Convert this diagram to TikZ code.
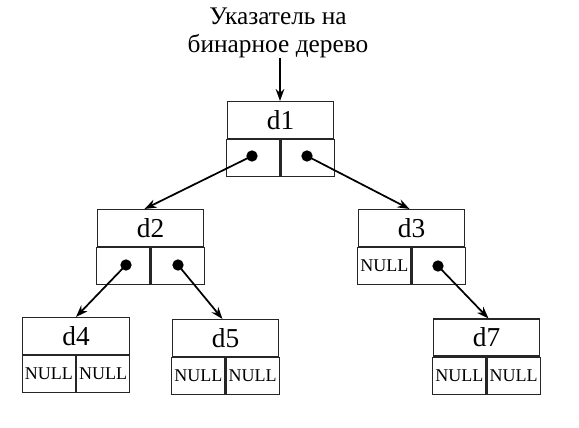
\documentclass[tikz,border=0pt]{standalone}
\usepackage{fontspec}
\setmainfont{Liberation Serif}
\usetikzlibrary{arrows.meta}
\begin{document}
\begin{tikzpicture}[x=0.75pt,y=-0.75pt,
  cell/.style={draw=black!85,line width=0.8pt,inner sep=0pt,minimum width=106.5*0.75pt,minimum height=37*0.75pt,font=\fontsize{20.5}{22}\selectfont},
  half/.style={draw=black!85,line width=0.8pt,inner sep=0pt,minimum width=53.25*0.75pt,minimum height=37*0.75pt,font=\fontsize{13.5}{14}\selectfont},
  dot/.style={circle,fill=black,inner sep=0pt,minimum size=8.5pt},
  link/.style={line width=1.3pt,-{Stealth[length=9pt,width=6.5pt]}},
  title/.style={align=center,font=\fontsize{19}{20.5}\selectfont,inner sep=0pt}]
\useasboundingbox (0,0) rectangle (579,428);
% d1
\node[cell] (d1) at (280.5,120) {d1};
\node[half,anchor=north east] (d1l) at (d1.south) {};
\node[half,anchor=north west] (d1r) at (d1.south) {};
% d2
\node[cell] (d2) at (150.5,228) {d2};
\node[half,anchor=north east] (d2l) at (d2.south) {};
\node[half,anchor=north west] (d2r) at (d2.south) {};
% d3
\node[cell] (d3) at (411.5,228) {d3};
\node[half,anchor=north east] (d3l) at (d3.south) {NULL};
\node[half,anchor=north west] (d3r) at (d3.south) {};
% d4
\node[cell] (d4) at (76,336) {d4};
\node[half,anchor=north east] (d4l) at (d4.south) {NULL};
\node[half,anchor=north west] (d4r) at (d4.south) {NULL};
% d5
\node[cell] (d5) at (225.5,338) {d5};
\node[half,anchor=north east] (d5l) at (d5.south) {NULL};
\node[half,anchor=north west] (d5r) at (d5.south) {NULL};
% d7
\node[cell] (d7) at (486.5,337.5) {d7};
\node[half,anchor=north east] (d7l) at (d7.south) {NULL};
\node[half,anchor=north west] (d7r) at (d7.south) {NULL};
% dots
\node[dot] (p1l) at (252,156) {};
\node[dot] (p1r) at (307,156) {};
\node[dot] (p2l) at (126,265) {};
\node[dot] (p2r) at (178,265) {};
\node[dot] (p3r) at (438,266) {};
% title
\node[title] (t) at (278,33) {Указатель на\\бинарное дерево};
\coordinate (tin) at (280,58);
\draw[link] (tin) -- (d1.north -| tin);
\draw[link] (p1l.center) -- ([xshift=-6*0.75pt]d2.north);
\draw[link] (p1r.center) -- ([xshift=-2*0.75pt]d3.north);
\draw[link] (p2l.center) -- (d4.north);
\draw[link] (p2r.center) -- ([xshift=-3*0.75pt]d5.north);
\draw[link] (p3r.center) -- ([xshift=2*0.75pt]d7.north);
\end{tikzpicture}
\end{document}
